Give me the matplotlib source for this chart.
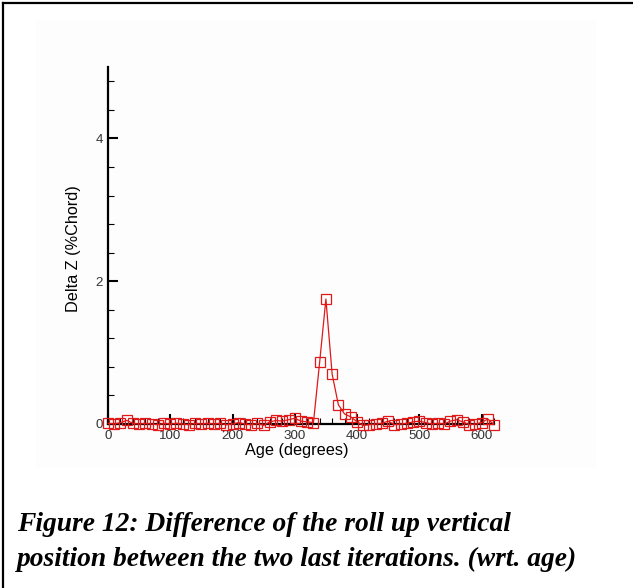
import matplotlib.pyplot as plt
from matplotlib.ticker import MultipleLocator
from matplotlib.lines import Line2D
from matplotlib.patches import Rectangle

# Roll up vertical position difference between the last two iterations
age = [0, 10, 20, 30, 40, 50, 60, 70, 80, 90,
       100, 110, 120, 130, 140, 150, 160, 170, 180, 190,
       200, 210, 220, 230, 240, 250, 260, 270, 280, 290,
       300, 310, 320, 330, 340, 350, 360, 370, 380, 390,
       400, 410, 420, 430, 440, 450, 460, 470, 480, 490,
       500, 510, 520, 530, 540, 550, 560, 570, 580, 590,
       600, 610, 620]
delta_z = [0.01, 0.00, 0.02, 0.05, 0.01, 0.00, 0.01, 0.00, -0.01, 0.01,
           0.00, 0.01, 0.00, -0.01, 0.01, 0.00, 0.01, 0.00, 0.01, -0.01,
           0.00, 0.02, 0.00, -0.01, 0.01, -0.02, 0.03, 0.05, 0.04, 0.06,
           0.08, 0.04, 0.03, 0.02, 0.87, 1.75, 0.70, 0.27, 0.14, 0.10,
           0.03, -0.02, -0.01, 0.00, 0.01, 0.04, -0.01, 0.00, 0.01, 0.03,
           0.04, 0.02, 0.00, 0.01, 0.00, 0.04, 0.06, 0.03, -0.01, 0.00,
           0.02, 0.07, -0.01]

caption = ["Figure 12: Difference of the roll up vertical",
           "position between the two last iterations. (wrt. age)"]

plt.rcParams["font.family"] = ["Liberation Sans", "DejaVu Sans"]

W, H = 633, 588
fig = plt.figure(figsize=(W / 100, H / 100), dpi=100)

# faint background of the embedded plot image
bg = Rectangle((36 / W, 1 - 468 / H), 560 / W, 448 / H, transform=fig.transFigure,
               facecolor="#fdfdfd", edgecolor="none", zorder=-5)
fig.add_artist(bg)

# page frame (top and left edges only)
fig.add_artist(Line2D([3 / W, 1], [1 - 3 / H, 1 - 3 / H], color="black", lw=1.6))
fig.add_artist(Line2D([3 / W, 3 / W], [0, 1 - 3 / H], color="black", lw=1.6))

left, right, top, bottom = 108, 494, 67, 424
ax = fig.add_axes([left / W, 1 - bottom / H, (right - left) / W, (bottom - top) / H])
ax.set_facecolor("none")
ax.set_zorder(2)

ax.plot(age, delta_z, color="#e01818", lw=0.9, marker="s", markersize=6.8,
        markerfacecolor="none", markeredgecolor="#e01818", markeredgewidth=0.9,
        clip_on=False, zorder=3)

ax.set_xlim(0, 620)
ax.set_ylim(0, 5)
for s in ["top", "right"]:
    ax.spines[s].set_visible(False)
for s in ["left", "bottom"]:
    ax.spines[s].set_linewidth(1.6)

ax.xaxis.set_major_locator(MultipleLocator(100))
ax.xaxis.set_minor_locator(MultipleLocator(20))
ax.yaxis.set_major_locator(MultipleLocator(2))
ax.yaxis.set_minor_locator(MultipleLocator(0.4))
ax.tick_params(which="major", direction="in", length=7, width=1.5,
               labelsize=9.6, labelcolor="#333333")
ax.tick_params(axis="x", which="major", pad=4.5)
ax.tick_params(axis="y", which="major", pad=3.5)
ax.tick_params(which="minor", direction="in", length=4, width=0.8)

ax.set_xlabel("Age (degrees)", fontsize=11.7, va="center")
ax.set_ylabel("Delta Z (%Chord)", fontsize=11.7, va="center")
ax.xaxis.set_label_coords((297 - left) / (right - left), (bottom - 450) / (bottom - top))
ax.yaxis.set_label_coords((73 - left) / (right - left), (bottom - 249) / (bottom - top))

fig.text(17 / W, 1 - 531 / H, caption[0], family="Liberation Serif",
         weight="bold", style="italic", fontsize=19.8, va="baseline")
fig.text(17 / W, 1 - 566 / H, caption[1], family="Liberation Serif",
         weight="bold", style="italic", fontsize=19.8, va="baseline")

fig.savefig("out.png", dpi=100)
